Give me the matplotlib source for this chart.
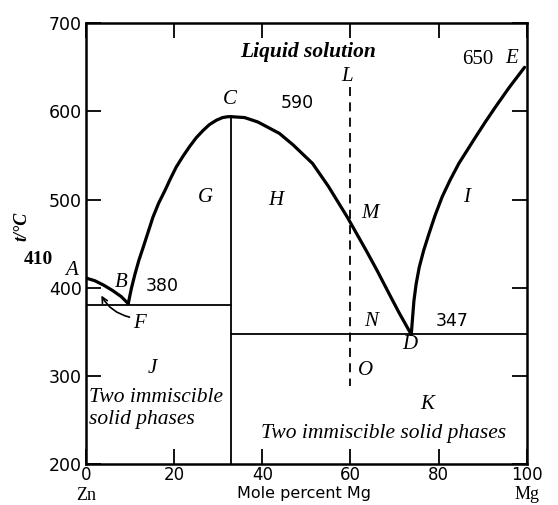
import numpy as np
import matplotlib.pyplot as plt

# curve points (mole % Mg, t/°C)
ab_x = [0, 2, 4, 6, 8, 9.6]
ab_t = [411, 408, 403, 397, 390, 382]
bc_x = [9.6, 10.3, 11.1, 12.0, 13.0, 14.1, 15.2, 16.5, 17.9, 19.2, 20.5,
        22.0, 23.5, 25.0, 26.5, 28.0, 29.6, 31.0, 32.2, 33]
bc_t = [382, 399, 415, 431, 446, 463, 480, 496, 510, 524, 537,
        549, 560, 570, 578, 585, 590, 593, 594, 594]
cd_x = [33, 36, 39, 43.9, 47, 51.4, 55, 59.3, 63.6, 66, 68.8, 71, 73.8]
cd_t = [594, 593, 588, 575, 562, 541, 515, 480, 442, 420, 393, 372, 347]
de_x = [73.8, 74.1, 74.4, 74.9, 75.6, 76.6, 77.8, 79.2, 80.8, 82.6, 84.6,
        86.5, 88.4, 90.6, 92.9, 96, 99.5]
de_t = [347, 366, 385, 404, 423, 442, 461, 482, 503, 522, 541,
        556, 571, 588, 605, 627, 650]

t_eut1 = 380
t_eut2 = 347
x_cmp = 33
x_dash = 60
dash_t = [628, 289]

xticks = [0, 20, 40, 60, 80, 100]
yticks = [200, 300, 400, 500, 600, 700]

serif = 'Liberation Serif'

fig = plt.figure(figsize=(5.58, 5.05), dpi=100)
ax = fig.add_axes([0.154, 0.081, 0.79, 0.873])
ax.set_xlim(0, 100)
ax.set_ylim(200, 700)

lw = 2.3
for xs, ts in [(ab_x, ab_t), (bc_x, bc_t), (cd_x, cd_t), (de_x, de_t)]:
    ax.plot(xs, ts, color='black', lw=lw, solid_capstyle='round',
            solid_joinstyle='round')

ax.plot([0, x_cmp], [t_eut1, t_eut1], color='black', lw=1.3)
ax.plot([x_cmp, 100], [t_eut2, t_eut2], color='black', lw=1.3)
ax.plot([x_cmp, x_cmp], [200, 594], color='black', lw=1.3)
ax.plot([x_dash, x_dash], dash_t, color='black', lw=1.3, ls=(0, (5, 3.5)))

# ticks
ax.set_xticks(xticks)
ax.set_xticklabels([str(v) for v in xticks], fontsize=12)
ax.set_yticks(yticks)
ax.set_yticklabels([str(v) for v in yticks], fontsize=12.5)
ax.tick_params(direction='in', length=11, width=1.3, top=True, right=True, pad=3)
ax.tick_params(axis='x', pad=1.5)
for s in ax.spines.values():
    s.set_linewidth(1.8)

# text labels
it = dict(family=serif, style='italic', fontsize=15, color='black')
big = dict(family=serif, style='italic', fontsize=15.5, color='black')
ax.text(50.5, 667, 'Liquid solution', ha='center', va='center', weight='bold',
        **big)
ax.text(59.3, 640, 'L', ha='center', va='center', **it)
ax.text(32.6, 613, 'C', ha='center', va='center', **it)
ax.text(48, 610, '590', ha='center', va='center', fontsize=12.5)
ax.text(92.5, 659, '650', ha='right', va='center', family=serif, fontsize=15)
ax.text(96.5, 660, 'E', ha='center', va='center', **it)
ax.text(27, 502, 'G', ha='center', va='center', **it)
ax.text(43, 499, 'H', ha='center', va='center', **it)
ax.text(64.5, 484, 'M', ha='center', va='center', **it)
ax.text(86.4, 502, 'I', ha='center', va='center', **it)
ax.text(-3.2, 419, 'A', ha='center', va='center', clip_on=False, **it)
ax.text(8.1, 406, 'B', ha='center', va='center', **it)
ax.text(17.4, 402, '380', ha='center', va='center', fontsize=12.5)
ax.text(12.2, 360, 'F', ha='center', va='center', **it)
ax.text(15, 308, 'J', ha='center', va='center', **it)
ax.text(0.8, 263, 'Two immiscible\nsolid phases', ha='left', va='center',
        linespacing=1.15, **big)
ax.text(64.7, 362, 'N', ha='center', va='center', **it)
ax.text(83, 362, '347', ha='center', va='center', fontsize=12.5)
ax.text(73.5, 336, 'D', ha='center', va='center', **it)
ax.text(63.5, 306, 'O', ha='center', va='center', **it)
ax.text(77.4, 268, 'K', ha='center', va='center', **it)
ax.text(67.6, 235, 'Two immiscible solid phases', ha='center', va='center',
        **big)

ax.text(-10.7, 432, '410', ha='center', va='center', family=serif,
        weight='bold', fontsize=14, clip_on=False)

ax.annotate('', xy=(3.2, 394), xytext=(10.5, 366),
            arrowprops=dict(arrowstyle='->', lw=1.2, color='black',
                            connectionstyle='arc3,rad=-0.25'))

ax.text(0, 164, 'Zn', ha='center', va='center', family=serif, fontsize=13,
        clip_on=False)
ax.text(100, 166, 'Mg', ha='center', va='center', family=serif, fontsize=13,
        clip_on=False)
ax.text(49.5, 166.5, 'Mole percent Mg', ha='center', va='center', fontsize=11.5,
        clip_on=False)
ax.text(-14.5, 470, 't/°C', ha='center', va='center', rotation=90,
        family=serif, style='italic', weight='bold', fontsize=13, clip_on=False)

fig.savefig('out.png', dpi=100)
